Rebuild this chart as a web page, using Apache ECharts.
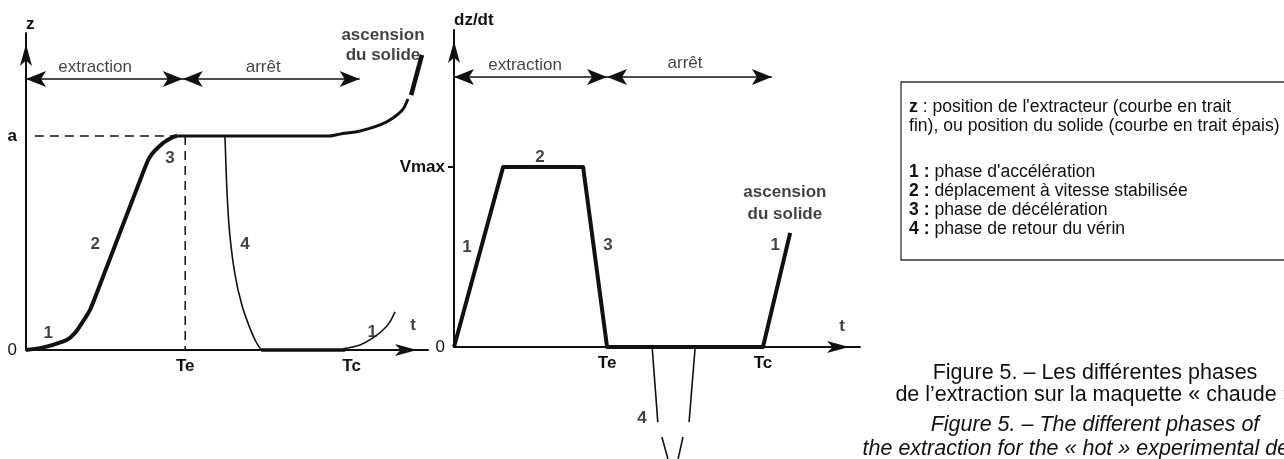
<!DOCTYPE html>
<html>
<head>
<meta charset="utf-8">
<script src="https://cdn.jsdelivr.net/npm/echarts@6.0.0/dist/echarts.min.js"></script>
<style>
  html, body { margin: 0; padding: 0; background: #fff; }
  #chart { width: 1284px; height: 459px; }
</style>
</head>
<body>
<div id="chart"></div>
<script>
// left panel : z(t), both axes in % of their span
var TeL = 39.6, TcL = 81;
var aLevel = 67.5;
var solidRise = [[0, 0], [3.5, 0.6], [6.7, 1.6], [10.2, 3.2], [12.2, 5.4], [13.9, 8.5], [15.9, 12.6], [17.9, 18.9],
  [28.4, 53.6], [30.8, 60.9], [34.1, 65.3], [36.6, 67.2], [37.6, aLevel]];
var solidHold = [[37.6, aLevel], [75.6, aLevel], [78.1, 68.1], [83.1, 69.1], [88.1, 71], [91.3, 73.2], [93.8, 76], [95, 79.2]];
var solidLift = [[95.8, 80.4], [98.5, 93.1]];
var extractorReturn = [[49.5, aLevel], [50, 49.8], [50.7, 36.3], [52, 23.7], [53.7, 14.2], [55.7, 6.9], [57.2, 2.6], [58.5, 0]];
var solidRest = [[58.5, 0], [79.4, 0]];
var extractorLift = [[78.9, 0.4], [83.1, 1.6], [86.3, 3.8], [88.8, 6.3], [90.5, 8.8], [91.8, 12]];
var dashH = [[2.2, aLevel], [37, aLevel]];
var dashV = [[TeL, aLevel], [TeL, 0]];

// right panel : dz/dt
var TeR = 37.7, TcR = 76.1;
var Vmax = 56.8;
var speedSolid = [[0, 0], [12.1, Vmax], [31.8, Vmax], [TeR, 0], [TcR, 0], [82.8, 36]];
var returnStrokes = [
  [[48.8, 0], [50.2, -23.7]],
  [[59.4, 0], [57.9, -23.7]],
  [[51.2, -28.4], [52.7, -35.3]],
  [[56.4, -28.4], [55.2, -35.3]]
];

// tick labels
var leftXTicks = [TeL, TcL], leftXNames = ['Te', 'Tc'];
var rightXTicks = [TeR, TcR], rightXNames = ['Te', 'Tc'];
var leftYTicks = [0, aLevel], leftYNames = ['{n|0}', '{b|a}'];
var rightYTicks = [0, Vmax], rightYNames = ['{n|0}', '{b|Vmax}'];

// phase arrows [from, to, y]
var leftSpans = [[0, 39, 85.5], [39, 83, 85.5]];
var rightSpans = [[0, 37.7, 85.2], [37.7, 78.3, 85.2]];

// text notes [x, y, text]
var leftBold = [[5.5, 5.2, '1'], [17.2, 33.4, '2'], [35.8, 60.6, '3'], [54.5, 33.4, '4'], [86.1, 5.7, '1'], [96.3, 7.9, 't'],
  [88.8, 99.4, 'ascension'], [88.8, 93.1, 'du solide']];
var leftPlain = [[17.2, 89.3, 'extraction'], [59, 89.3, 'arrêt']];
var rightBold = [[3.2, 31.5, '1'], [21.2, 59.9, '2'], [37.9, 32.2, '3'], [46.3, -22.4, '4'], [79.1, 32.2, '1'], [95.6, 6.6, 't'],
  [81.5, 48.9, 'ascension'], [81.5, 42.0, 'du solide']];
var rightPlain = [[17.5, 89, 'extraction'], [56.9, 89.6, 'arrêt']];

var INK = '#111';
var FONT = '"Liberation Sans", Arial, sans-serif';

function pick(ticks, names) {
  return function (v) {
    for (var i = 0; i < ticks.length; i++) {
      if (Math.abs(ticks[i] - v) < 0.01) return names[i];
    }
    return '';
  };
}

function axisLine() {
  return {
    show: true,
    symbol: ['none', 'arrow'],
    symbolSize: [9, 22],
    symbolOffset: [0, -11],
    lineStyle: { color: INK, width: 2 }
  };
}

function xAxis(grid, ticks, names) {
  return {
    gridIndex: grid, type: 'value', min: 0, max: 100,
    splitLine: { show: false },
    axisTick: { show: false },
    axisLine: axisLine(),
    axisLabel: {
      customValues: ticks, formatter: pick(ticks, names),
      color: INK, fontFamily: FONT, fontSize: 17, fontWeight: 'bold', margin: 8
    }
  };
}

function yAxis(grid, name, gap, ticks, names, tickShown) {
  return {
    gridIndex: grid, type: 'value', min: 0, max: 100,
    name: name, nameLocation: 'end', nameGap: gap,
    nameTextStyle: { color: INK, fontFamily: FONT, fontSize: 17, fontWeight: 'bold', align: 'left' },
    splitLine: { show: false },
    axisTick: { show: tickShown, customValues: tickShown ? [ticks[1]] : undefined, length: 6, lineStyle: { color: INK, width: 2 } },
    axisLine: axisLine(),
    axisLabel: {
      customValues: ticks, formatter: pick(ticks, names), margin: 9,
      rich: {
        n: { color: INK, fontFamily: FONT, fontSize: 17 },
        b: { color: INK, fontFamily: FONT, fontSize: 17, fontWeight: 'bold' }
      }
    }
  };
}

function curve(grid, data, width, smooth, dashed) {
  return {
    type: 'line', xAxisIndex: grid, yAxisIndex: grid, data: data,
    symbol: 'none', smooth: smooth ? 0.25 : false, clip: false, silent: true,
    lineStyle: { color: INK, width: width, type: dashed ? [9, 6] : 'solid', cap: 'butt', join: 'round' }
  };
}

function spans(grid, list) {
  return {
    type: 'line', xAxisIndex: grid, yAxisIndex: grid, data: [], symbol: 'none',
    markLine: {
      silent: true, symbol: ['arrow', 'arrow'], symbolSize: [12, 20],
      label: { show: false },
      lineStyle: { type: 'solid', color: INK, width: 1.5 },
      data: list.map(function (s) { return [{ coord: [s[0], s[2]] }, { coord: [s[1], s[2]] }]; })
    }
  };
}

function notes(grid, list, bold) {
  return {
    type: 'scatter', xAxisIndex: grid, yAxisIndex: grid, data: list,
    symbolSize: 0, clip: false, silent: true,
    label: {
      show: true, position: 'inside',
      formatter: function (p) { return p.value[2]; },
      color: INK, fontFamily: FONT, fontSize: 17, fontWeight: bold ? 'bold' : 'normal'
    }
  };
}

var series = [
  curve(0, solidRise, 4, true),
  curve(0, solidHold, 3, true),
  curve(0, solidLift, 4.5, false),
  curve(0, extractorReturn, 1.6, true),
  curve(0, solidRest, 3.5, false),
  curve(0, extractorLift, 1.6, true),
  curve(0, dashH, 1.5, false, true),
  curve(0, dashV, 1.5, false, true),
  spans(0, leftSpans),
  notes(0, leftBold, true),
  notes(0, leftPlain, false),
  curve(1, speedSolid, 4, false),
  spans(1, rightSpans),
  notes(1, rightBold, true),
  notes(1, rightPlain, false)
];
returnStrokes.forEach(function (s) { series.push(curve(1, s, 1.6, false)); });

var legendText = {
  b: { fontFamily: FONT, fontSize: 17.6, fontWeight: 'bold', fill: INK, lineHeight: 19 },
  n: { fontFamily: FONT, fontSize: 17.6, fill: INK, lineHeight: 19 }
};
var CAP = '21.5px ' + FONT;

var chart = echarts.init(document.getElementById('chart'));
chart.setOption({
  animation: false,
  backgroundColor: '#fff',
  grid: [
    { left: 26, top: 33, width: 402, height: 317 },
    { left: 454, top: 30, width: 406, height: 317 }
  ],
  xAxis: [xAxis(0, leftXTicks, leftXNames), xAxis(1, rightXTicks, rightXNames)],
  yAxis: [yAxis(0, 'z', 0, leftYTicks, leftYNames, false), yAxis(1, 'dz/dt', 1, rightYTicks, rightYNames, true)],
  series: series,
  graphic: [
    { type: 'rect', shape: { x: 901, y: 82, width: 420, height: 178 }, style: { fill: 'none', stroke: '#333', lineWidth: 1.3 } },
    { type: 'text', x: 909, y: 98, style: {
      text: '{b|z}{n| : position de l\'extracteur (courbe en trait}\n{n|fin), ou position du solide (courbe en trait épais)}',
      rich: legendText } },
    { type: 'text', x: 909, y: 163, style: {
      text: '{b|1 :}{n| phase d\'accélération}\n{b|2 :}{n| déplacement à vitesse stabilisée}\n{b|3 :}{n| phase de décélération}\n{b|4 :}{n| phase de retour du vérin}',
      rich: legendText } },
    { type: 'text', x: 1095, y: 373, style: { text: 'Figure 5. – Les différentes phases', font: CAP, fill: INK, align: 'center', verticalAlign: 'middle' } },
    { type: 'text', x: 1095, y: 395, style: { text: 'de l’extraction sur la maquette « chaude »', font: CAP, fill: INK, align: 'center', verticalAlign: 'middle' } },
    { type: 'text', x: 1095, y: 425, style: { text: 'Figure 5. – The different phases of', font: 'italic ' + CAP, fill: INK, align: 'center', verticalAlign: 'middle' } },
    { type: 'text', x: 1095, y: 449, style: { text: 'the extraction for the « hot » experimental device', font: 'italic ' + CAP, fill: INK, align: 'center', verticalAlign: 'middle' } }
  ]
});
</script>
</body>
</html>
